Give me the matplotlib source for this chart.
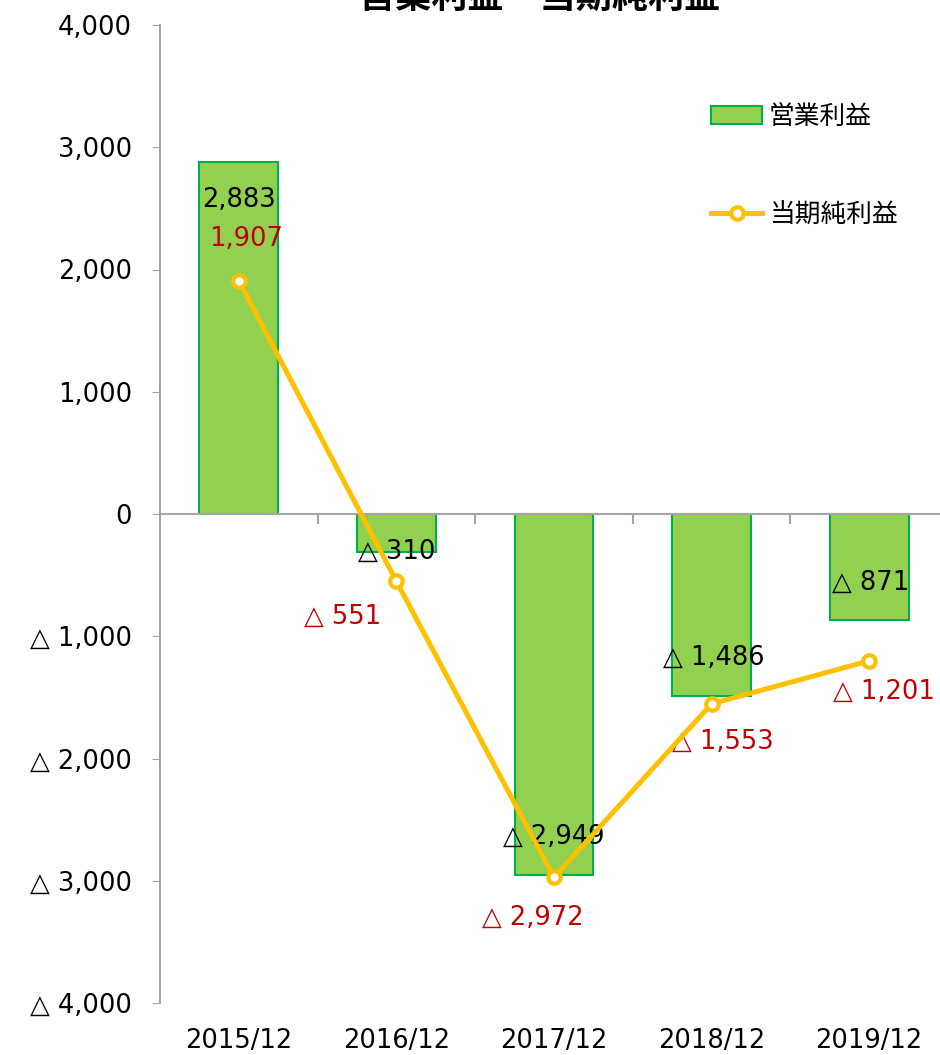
import matplotlib.pyplot as plt
from matplotlib.ticker import FuncFormatter

plt.rcParams['font.family'] = ['DejaVu Sans', 'Noto Sans CJK JP']

categories = ['2015/12', '2016/12', '2017/12', '2018/12', '2019/12']
operating_profit = [2883, -310, -2949, -1486, -871]
net_profit = [1907, -551, -2972, -1553, -1201]

# label offsets in pixels (dx, dy); dy positive = down
bar_label_offsets = [(0, 38), (0, 0), (0, -38), (2, -38), (1, -38)]
line_label_offsets = [(7, -42), (-54, 35), (-21, 40), (11, 38), (15, 31)]

bar_color = '#92D050'
bar_edge = '#00B050'
line_color = '#FFC000'
red = '#C00000'
gray = '#A6A6A6'
fs = 18.5


def fmt(v):
    if v < 0:
        return '△ {:,}'.format(int(-v))
    return '{:,}'.format(int(v))


fig = plt.figure(figsize=(9.4, 10.55), dpi=100)
ax = fig.add_axes([160 / 940, 1 - 1003 / 1055, (948 - 160) / 940, (1003 - 25) / 1055])

x = list(range(len(categories)))
ax.bar(x, operating_profit, width=0.5, color=bar_color, edgecolor=bar_edge,
       linewidth=1.5, zorder=2, label='営業利益')
ax.plot(x, net_profit, color=line_color, linewidth=3.6, marker='o', markersize=9,
        markerfacecolor='white', markeredgecolor=line_color, markeredgewidth=3,
        zorder=5, label='当期純利益')

for i, v in enumerate(operating_profit):
    dx, dy = bar_label_offsets[i]
    ax.annotate(fmt(v), (i, v), xytext=(dx * 0.72, -dy * 0.72), textcoords='offset points',
                ha='center', va='center', fontsize=fs, color='black', zorder=3)
for i, v in enumerate(net_profit):
    dx, dy = line_label_offsets[i]
    ax.annotate(fmt(v), (i, v), xytext=(dx * 0.72, -dy * 0.72), textcoords='offset points',
                ha='center', va='center', fontsize=fs, color=red, zorder=3)

ax.set_xlim(-0.5, 4.5)
ax.set_ylim(-4000, 4000)
ax.set_yticks(range(-4000, 4001, 1000))
ax.yaxis.set_major_formatter(FuncFormatter(lambda v, p: fmt(v)))
ax.tick_params(axis='y', length=6, color=gray, labelsize=fs, pad=14)

# category axis sits on the zero line, ticks between categories
ax.spines['bottom'].set_position(('data', 0))
ax.spines['bottom'].set_color(gray)
ax.spines['bottom'].set_linewidth(1.5)
ax.set_xticks(x)
ax.set_xticklabels([])
ax.set_xticks([i + 0.5 for i in x[:-1]], minor=True)
ax.tick_params(axis='x', which='major', length=0)
ax.tick_params(axis='x', which='minor', length=7, width=1.5, color=gray, direction='out')

for s in ['top', 'right']:
    ax.spines[s].set_visible(False)
ax.spines['left'].set_color(gray)
ax.spines['left'].set_linewidth(1.5)

sec = ax.secondary_xaxis('bottom')
sec.set_xticks(x)
sec.set_xticklabels(categories, fontsize=fs)
sec.tick_params(length=0, pad=18)
sec.spines['bottom'].set_visible(False)

fig.text(540 / 940, 1 - 8 / 1055, '営業利益　当期純利益', ha='center', va='baseline',
         fontsize=26, fontweight='bold', family=['Noto Sans CJK JP', 'DejaVu Sans'])

handles, labels = ax.get_legend_handles_labels()
order = [labels.index('営業利益'), labels.index('当期純利益')]
leg = ax.legend([handles[i] for i in order], [labels[i] for i in order],
                loc='upper left', bbox_to_anchor=(711 / 940, 1 - 104 / 1055),
                bbox_transform=fig.transFigure, frameon=False, fontsize=fs,
                handlelength=2.0, handletextpad=0.25, labelspacing=2.8,
                borderaxespad=0, borderpad=0)

fig.savefig('out.png', dpi=100)
